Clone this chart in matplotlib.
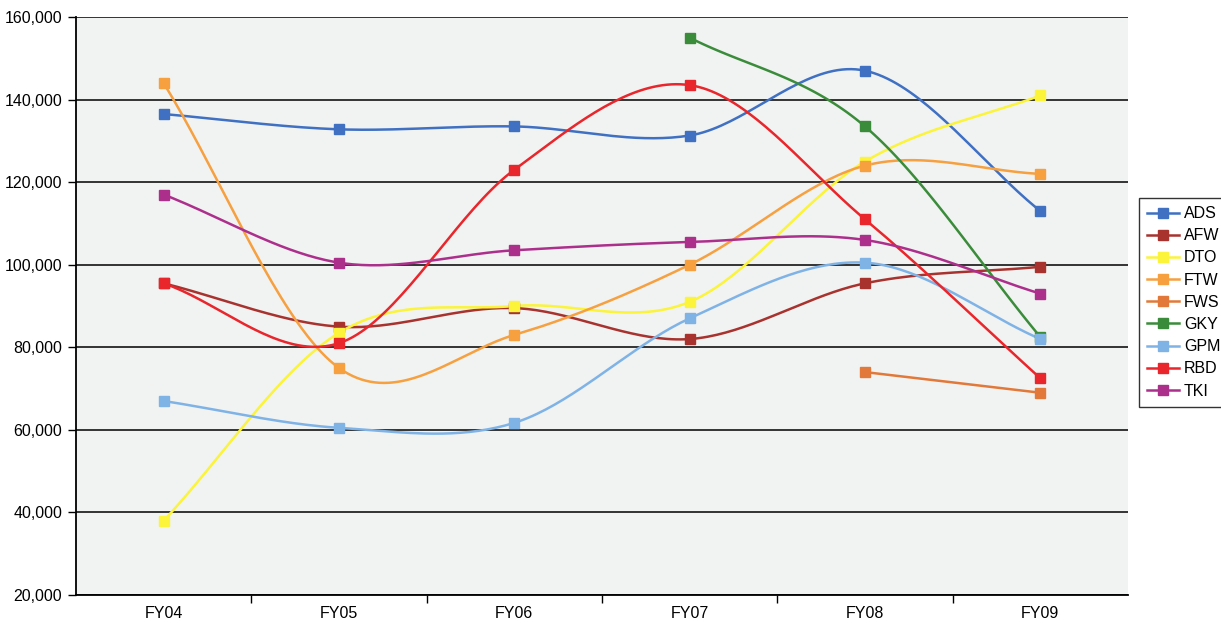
import numpy as np
import matplotlib
matplotlib.use("Agg")
import matplotlib.pyplot as plt
from matplotlib.ticker import FuncFormatter, FixedLocator

plt.rcParams['font.family'] = ['Liberation Sans', 'DejaVu Sans']

years = ["FY04", "FY05", "FY06", "FY07", "FY08", "FY09"]

# None = no figure for that year
ADS = [136500, 132800, 133500, 131300, 147000, 113000]
AFW = [95500, 85000, 89500, 82000, 95500, 99500]
DTO = [38000, 83500, 90000, 91000, 125000, 141000]
FTW = [144000, 75000, 83000, 100000, 124000, 122000]
FWS = [None, None, None, None, 74000, 69000]
GKY = [None, None, None, 155000, 133500, 82500]
GPM = [67000, 60500, 61700, 87000, 100500, 82000]
RBD = [95500, 81000, 123000, 143500, 111000, 72500]
TKI = [117000, 100500, 103500, 105500, 106000, 93000]

names = ["ADS", "AFW", "DTO", "FTW", "FWS", "GKY", "GPM", "RBD", "TKI"]
series = [ADS, AFW, DTO, FTW, FWS, GKY, GPM, RBD, TKI]
colors = ["#3f70c2", "#a8332e", "#fbf43a", "#f6a040", "#e2793a",
          "#3b8c3a", "#7fb3e6", "#e8262b", "#ad2f8c"]


def smooth(xs, ys, n=40):
    # bezier smoothing, end points extended along the first/last segment
    xs = np.asarray(xs, float)
    ys = np.asarray(ys, float)
    if len(xs) < 3:
        return xs, ys
    px = np.concatenate([[2 * xs[0] - xs[1]], xs, [2 * xs[-1] - xs[-2]]])
    py = np.concatenate([[2 * ys[0] - ys[1]], ys, [2 * ys[-1] - ys[-2]]])
    outx, outy = [], []
    t = np.linspace(0, 1, n)
    for i in range(1, len(px) - 2):
        p0 = np.array([px[i], py[i]])
        p3 = np.array([px[i + 1], py[i + 1]])
        c1 = p0 + (np.array([px[i + 1], py[i + 1]]) - np.array([px[i - 1], py[i - 1]])) / 6
        c2 = p3 - (np.array([px[i + 2], py[i + 2]]) - np.array([px[i], py[i]])) / 6
        b = ((1 - t) ** 3)[:, None] * p0 + (3 * (1 - t) ** 2 * t)[:, None] * c1 \
            + (3 * (1 - t) * t ** 2)[:, None] * c2 + (t ** 3)[:, None] * p3
        outx.extend(b[:, 0])
        outy.extend(b[:, 1])
    return np.array(outx), np.array(outy)


fig = plt.figure(figsize=(12.21, 6.23), dpi=100)
ax = fig.add_axes([0.0622, 0.0449, 0.8616, 0.9278])
ax.set_facecolor("#f1f3f2")

for name, vals, col in zip(names, series, colors):
    xs = [i for i, v in enumerate(vals) if v is not None]
    ys = [v for v in vals if v is not None]
    sx, sy = smooth(xs, ys)
    ax.plot(sx, sy, color=col, lw=1.8, zorder=3)
    ax.plot(xs, ys, ls="none", marker="s", ms=6.5, color=col,
            markeredgecolor=col, zorder=4)
    ax.plot([], [], color=col, lw=1.8, marker="s", ms=6.5, label=name)

ax.set_xlim(-0.5, 5.5)
ax.set_ylim(20000, 160000)
ax.set_yticks(np.arange(20000, 160001, 20000))
ax.yaxis.set_major_formatter(FuncFormatter(lambda v, p: f"{int(v):,}"))
ax.yaxis.grid(True, color="black", lw=1.1)
ax.set_axisbelow(True)

ax.set_xticks(range(len(years)))
ax.set_xticklabels(years)
ax.xaxis.set_minor_locator(FixedLocator(np.arange(0.5, 5.0, 1.0)))
ax.tick_params(axis="x", which="major", length=0, labelsize=11.5, pad=8)
ax.tick_params(axis="x", which="minor", length=6, width=1, direction="out")
ax.tick_params(axis="y", length=6, width=1, labelsize=11.5, pad=4)

for side in ["top", "right"]:
    ax.spines[side].set_visible(False)
ax.spines["left"].set_linewidth(1.3)
ax.spines["bottom"].set_linewidth(1.3)

leg = fig.legend(loc="upper left", bbox_to_anchor=(0.933, 0.682),
                 fontsize=11.5, frameon=True, fancybox=False,
                 handlelength=2.0, handletextpad=0.3, labelspacing=0.45,
                 borderpad=0.5, borderaxespad=0)
leg.get_frame().set_edgecolor("black")
leg.get_frame().set_linewidth(1.0)

fig.savefig("out.png", dpi=100)
